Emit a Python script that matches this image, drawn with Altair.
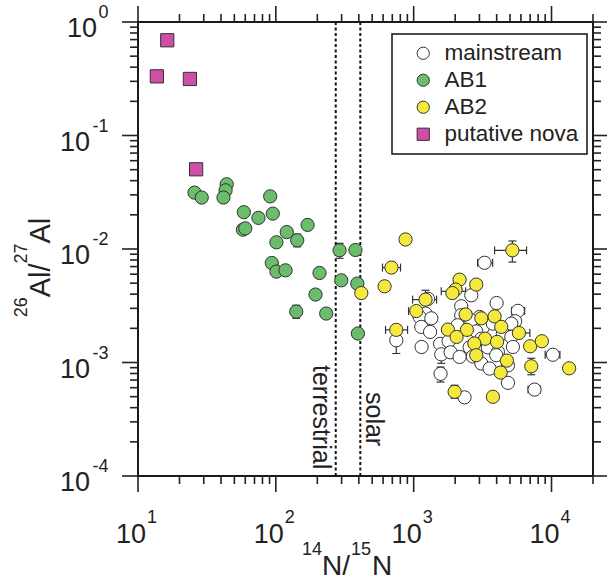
import altair as alt
import pandas as pd

# ---------------- data ----------------
ms_n = [3266, 1271, 3997, 5702, 2213, 5445, 1219, 1104, 1343, 1135, 1315, 748, 1141, 1556,
        1792, 1585, 1853, 3006, 2618, 3177, 2844, 3096, 3758, 5109, 4437, 5109, 5248, 2546,
        3451, 4082, 2690, 3096, 3972, 3556, 4831, 4831, 10230, 7534, 1567, 2339, 2213, 2618,
        2153, 2084]
ms_al = [0.00756, 0.00364, 0.00334, 0.00285, 0.00313, 0.00231, 0.0027, 0.00252, 0.00245,
         0.00206, 0.00186, 0.00157, 0.00137, 0.00146, 0.00154, 0.00118, 0.00123, 0.00252,
         0.00235, 0.00204, 0.00188, 0.00162, 0.0022, 0.0022, 0.0018, 0.00168, 0.00137,
         0.00136, 0.00136, 0.00124, 0.00113, 0.00098, 0.00116, 0.000884, 0.000944, 0.000662,
         0.00117, 0.000577, 0.000795, 0.000493, 0.00261, 0.00391, 0.00112, 0.00213]

ab1_n = [25.7, 29.0, 44.0, 43.2, 41.7, 91.0, 58.6, 74.8, 95.1, 57.7, 60.0, 120, 170, 101,
         143, 290, 378, 93.5, 101, 117.6, 207.5, 298.5, 390, 194, 140.6, 232, 394]
ab1_al = [0.0314, 0.0284, 0.0372, 0.0329, 0.0284, 0.0291, 0.0211, 0.0188, 0.0205, 0.0148,
          0.0152, 0.0141, 0.0163, 0.01146, 0.01193, 0.00974, 0.0098, 0.00753, 0.00632,
          0.00649, 0.00615, 0.0053, 0.00496, 0.00397, 0.00281, 0.0027, 0.0018]

ab2_n = [873, 690, 615, 417, 2153, 2014, 1909, 2844, 5200, 1219, 1045, 748, 2383, 3097,
         3864, 4322, 1771, 2433, 2047, 5799, 3296, 4028, 2754, 7000, 8511, 2844, 4747, 7134,
         4276, 13430, 1982, 3758]
ab2_al = [0.01213, 0.00686, 0.00469, 0.00409, 0.00537, 0.00439, 0.00409, 0.00486, 0.00974,
          0.00358, 0.00284, 0.00194, 0.00265, 0.00245, 0.00255, 0.00206, 0.00195, 0.00194,
          0.00168, 0.00182, 0.00162, 0.00152, 0.00147, 0.00139, 0.00154, 0.00116, 0.00104,
          0.000926, 0.000815, 0.000889, 0.000552, 0.000499]

nova_n = [16.3, 13.7, 23.8, 26.4]
nova_al = [0.69, 0.332, 0.315, 0.0504]

# horizontal error bars
xerr_n = [690, 5200, 3266, 1950, 1219, 748, 5702, 5799, 10230, 7534, 1045, 3296]
xerr_al = [0.00686, 0.00974, 0.00756, 0.00424, 0.00358, 0.00194, 0.00285, 0.00182,
           0.00117, 0.000577, 0.00284, 0.00162]
xerr_lo = [594, 3864, 2911, 1585, 982, 625, 5129, 4888, 8995, 6760, 918, 2767]
xerr_hi = [803, 6592, 3742, 2383, 1466, 903, 6383, 6963, 11510, 8300, 1181, 3997]

# vertical error bars
yerr_n = [5200, 1219, 748, 7134, 1567, 1585, 1982, 143, 290, 140.6]
yerr_al = [0.00974, 0.00358, 0.00157, 0.000926, 0.000795, 0.00118, 0.000552, 0.01193,
           0.00974, 0.00281]
yerr_lo = [0.00768, 0.00294, 0.0012, 0.00078, 0.000673, 0.000984, 0.000484, 0.01045,
           0.00828, 0.00245]
yerr_hi = [0.01176, 0.00433, 0.00204, 0.00109, 0.000912, 0.00142, 0.00063, 0.0135,
           0.01122, 0.00319]

terrestrial_ratio = 272
solar_ratio = 410

groups = ["mainstream", "AB1", "AB2", "putative nova"]
group_fill = ["#ffffff", "#6abd6b", "#f4e93c", "#cf4fa6"]
group_shape = ["circle", "circle", "circle", "square"]
group_stroke = ["#333333", "#333333", "#333333", "#333333"]

x_major = [10, 100, 1000, 10000]
x_exp = ["1", "2", "3", "4"]
y_major = [1, 0.1, 0.01, 0.001, 0.0001]
y_exp = ["0", "-1", "-2", "-3", "-4"]

# ---------------- build tables ----------------
pts = pd.concat([
    pd.DataFrame({"n": ms_n, "al": ms_al, "g": "mainstream"}),
    pd.DataFrame({"n": ab1_n, "al": ab1_al, "g": "AB1"}),
    pd.DataFrame({"n": ab2_n, "al": ab2_al, "g": "AB2"}),
    pd.DataFrame({"n": nova_n, "al": nova_al, "g": "putative nova"}),
], ignore_index=True)

xe = pd.DataFrame({"n": xerr_n, "al": xerr_al, "lo": xerr_lo, "hi": xerr_hi})
ye = pd.DataFrame({"n": yerr_n, "al": yerr_al, "lo": yerr_lo, "hi": yerr_hi})

x_minor = [m * d for d in x_major for m in range(2, 10) if m * d <= 20000]
y_minor = [m * d for d in y_major[1:] for m in range(2, 10)]
xmaj = pd.DataFrame({"v": x_major, "e": x_exp})
ymaj = pd.DataFrame({"v": y_major, "e": y_exp})
xmin = pd.DataFrame({"v": x_minor})
ymin = pd.DataFrame({"v": y_minor})
refl = pd.DataFrame({"v": [terrestrial_ratio, solar_ratio]})
one = pd.DataFrame({"d": [0]})

FONT = "Liberation Sans"
AX = "#222222"
TXT = "#222222"
W, H = 455, 454

xs = alt.Scale(type="log", domain=[10, 20000], nice=False)
ys = alt.Scale(type="log", domain=[0.0001, 1], nice=False)


def X(f):
    return alt.X(f, type="quantitative", scale=xs, axis=None)


def Y(f):
    return alt.Y(f, type="quantitative", scale=ys, axis=None)


layers = []

# axis ticks (outward on all four sides)
for df, ln in ((xmaj, 16), (xmin, 8)):
    layers.append(alt.Chart(df).mark_rule(color=AX, strokeWidth=1.6).encode(
        x=X("v"), y=alt.value(H), y2=alt.value(H + ln)))
    layers.append(alt.Chart(df).mark_rule(color=AX, strokeWidth=1.6).encode(
        x=X("v"), y=alt.value(0), y2=alt.value(-ln)))
for df, ln in ((ymaj, 16), (ymin, 8)):
    layers.append(alt.Chart(df).mark_rule(color=AX, strokeWidth=1.6).encode(
        y=Y("v"), x=alt.value(0), x2=alt.value(-ln)))
    layers.append(alt.Chart(df).mark_rule(color=AX, strokeWidth=1.6).encode(
        y=Y("v"), x=alt.value(W), x2=alt.value(W + ln)))

# tick labels
layers.append(alt.Chart(xmaj).mark_text(text="10", align="right", baseline="alphabetic",
                                        fontSize=27, font=FONT, color=TXT, dx=8).encode(
    x=X("v"), y=alt.value(521)))
layers.append(alt.Chart(xmaj).mark_text(align="left", baseline="alphabetic",
                                        fontSize=18, font=FONT, color=TXT, dx=9).encode(
    x=X("v"), y=alt.value(501), text="e:N"))
layers.append(alt.Chart(ymaj).transform_filter("datum.e == '0'").mark_text(
    text="10", align="right", baseline="alphabetic", fontSize=27, font=FONT, color=TXT,
    dy=15).encode(y=Y("v"), x=alt.value(-41)))
layers.append(alt.Chart(ymaj).transform_filter("datum.e != '0'").mark_text(
    text="10", align="right", baseline="alphabetic", fontSize=27, font=FONT, color=TXT,
    dy=15).encode(y=Y("v"), x=alt.value(-48)))
layers.append(alt.Chart(ymaj).mark_text(align="right", baseline="alphabetic", fontSize=18,
                                        font=FONT, color=TXT, dy=-4).encode(
    y=Y("v"), x=alt.value(-29.5), text="e:N"))

# axis titles  (14N/15N and 26Al/27Al with superscripts)
def piece(txt, size, x, y, angle=0):
    kw = dict(text=txt, align="left", baseline="alphabetic", fontSize=size, font=FONT,
              color=TXT)
    if angle:
        kw["angle"] = angle
    return alt.Chart(one).mark_text(**kw).encode(x=alt.value(x), y=alt.value(y))


layers += [
    piece("14", 18, 164, 533), piece("N/", 28, 184, 553),
    piece("15", 18, 213, 533), piece("N", 28, 234, 553),
    piece("26", 18, -111, 295.3, 270), piece("Al/", 29, -88, 275.3, 270),
    piece("27", 18, -111, 241.5, 270), piece("Al", 29, -88, 221.5, 270),
]

# reference lines
layers.append(alt.Chart(refl).mark_rule(color="#111111", strokeWidth=2,
                                        strokeDash=[3, 2.5]).encode(
    x=X("v"), y=alt.value(0), y2=alt.value(H)))
layers.append(alt.Chart(pd.DataFrame({"v": [terrestrial_ratio]})).mark_text(
    text="terrestrial", angle=90, align="left", baseline="alphabetic", fontSize=25,
    font=FONT, color=TXT, dy=23).encode(x=X("v"), y=alt.value(343)))
layers.append(alt.Chart(pd.DataFrame({"v": [solar_ratio]})).mark_text(
    text="solar", angle=90, align="left", baseline="alphabetic", fontSize=25,
    font=FONT, color=TXT, dy=-6).encode(x=X("v"), y=alt.value(370)))

# error bars
EB = "#333333"
layers.append(alt.Chart(xe).mark_rule(color=EB, strokeWidth=1.2).encode(
    x=X("lo"), x2=alt.X2("hi"), y=Y("al")))
for f in ("lo", "hi"):
    layers.append(alt.Chart(xe).mark_tick(orient="vertical", size=8, thickness=1.2,
                                          color=EB, opacity=1).encode(x=X(f), y=Y("al")))
layers.append(alt.Chart(ye).mark_rule(color=EB, strokeWidth=1.2).encode(
    x=X("n"), y=Y("lo"), y2=alt.Y2("hi")))
for f in ("lo", "hi"):
    layers.append(alt.Chart(ye).mark_tick(orient="horizontal", size=8, thickness=1.2,
                                          color=EB, opacity=1).encode(x=X("n"), y=Y(f)))

# points with legend
leg = alt.Legend(title=None, orient="none", legendX=254, legendY=12, padding=8,
                 strokeColor="#111111", fillColor="white", labelFontSize=22.5,
                 labelFont=FONT, labelColor=TXT, symbolSize=150,
                 symbolStrokeWidth=1, symbolOpacity=1,
                 symbolOffset=12, labelOffset=10, rowPadding=4)
layers.append(alt.Chart(pts).mark_point(filled=True, size=175, strokeWidth=1,
                                        opacity=1).encode(
    x=X("n"), y=Y("al"),
    fill=alt.Fill("g:N", scale=alt.Scale(domain=groups, range=group_fill), legend=leg),
    shape=alt.Shape("g:N", scale=alt.Scale(domain=groups, range=group_shape), legend=leg),
    stroke=alt.Stroke("g:N", scale=alt.Scale(domain=groups, range=group_stroke),
                      legend=leg),
))

chart = alt.layer(*layers).properties(
    width=W, height=H,
    padding={"left": 138, "top": 22, "right": 14, "bottom": 108},
    autosize=alt.AutoSizeParams(type="none"),
).configure_view(stroke="#1a1a1a", strokeWidth=2).configure_legend(strokeWidth=1.5)

chart.save("out.html", embed_options={"renderer": "svg", "actions": False})
